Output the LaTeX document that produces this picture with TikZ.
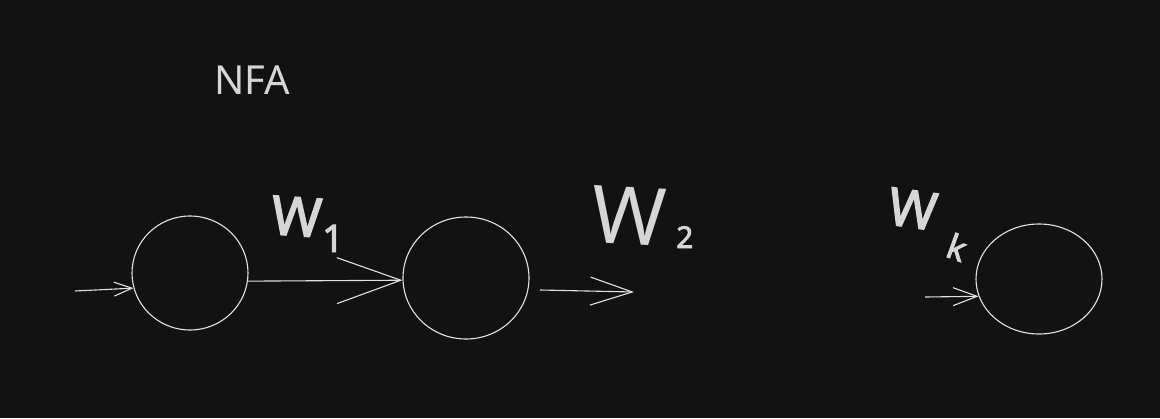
\documentclass[tikz,border=0pt]{standalone}
\usepackage{fontspec}
\setmainfont{Noto Sans}
\newfontfamily\thickfont[FakeBold=2.5]{Noto Sans}
\usetikzlibrary{arrows.meta,shapes.geometric}
\definecolor{bg}{HTML}{121212}
\definecolor{ink}{HTML}{E2E2E2}
\definecolor{chalk}{HTML}{D6D6D6}
\tikzset{
  state/.style={draw=ink, line width=1.1pt, ellipse},
  edge/.style={draw=ink, line width=1.1pt},
  lbl/.style={text=chalk, inner sep=0pt, anchor=base west},
}
\begin{document}
\begin{tikzpicture}[x=1pt,y=-1pt]
\useasboundingbox[fill=bg] (0,0) rectangle (1160,418);
% states
\node[state, minimum width=116pt, minimum height=114pt] (s1) at (190,273) {};
\node[state, minimum width=126pt, minimum height=122pt] (s2) at (466,278) {};
\node[state, minimum width=126pt, minimum height=110pt] (s3) at (1039,279) {};
% free ends
\coordinate (i1) at (75,291);
\coordinate (o2) at (540,290);
\coordinate (e2) at (634,292);
\coordinate (i3) at (925,297);
% connectors
\draw[edge, -{Straight Barb[length=18pt,width=14pt]}] (i1) -- (s1.195);
\draw[edge, -{Straight Barb[length=64pt,width=46pt]}] (s1.-8) -- (s2.182);
\draw[edge, -{Straight Barb[length=42pt,width=28pt]}] (o2) -- (e2);
\draw[edge, -{Straight Barb[length=24pt,width=18pt]}] (i3) -- (s3.196);
% labels
\node[lbl, font=\fontsize{40}{40}\selectfont] (nfa) at (214,94) {NFA};
\node[lbl, font=\thickfont\fontsize{54}{54}\selectfont, rotate=-4] (w1) at (270,234) {W};
\node[lbl, font=\thickfont\fontsize{38}{38}\selectfont] (w1s) at (322,252) {1};
\node[lbl, font=\fontsize{80}{80}\selectfont, rotate=-3] (w2) at (590,242) {W};
\node[lbl, font=\thickfont\fontsize{30}{30}\selectfont] (w2s) at (676,248) {2};
\node[lbl, font=\thickfont\fontsize{52}{52}\selectfont, rotate=-8] (wk) at (886,224) {W};
\node[lbl, font=\thickfont\fontsize{34}{34}\selectfont, rotate=-20] (wks) at (944,256) {k};
\end{tikzpicture}
\end{document}
